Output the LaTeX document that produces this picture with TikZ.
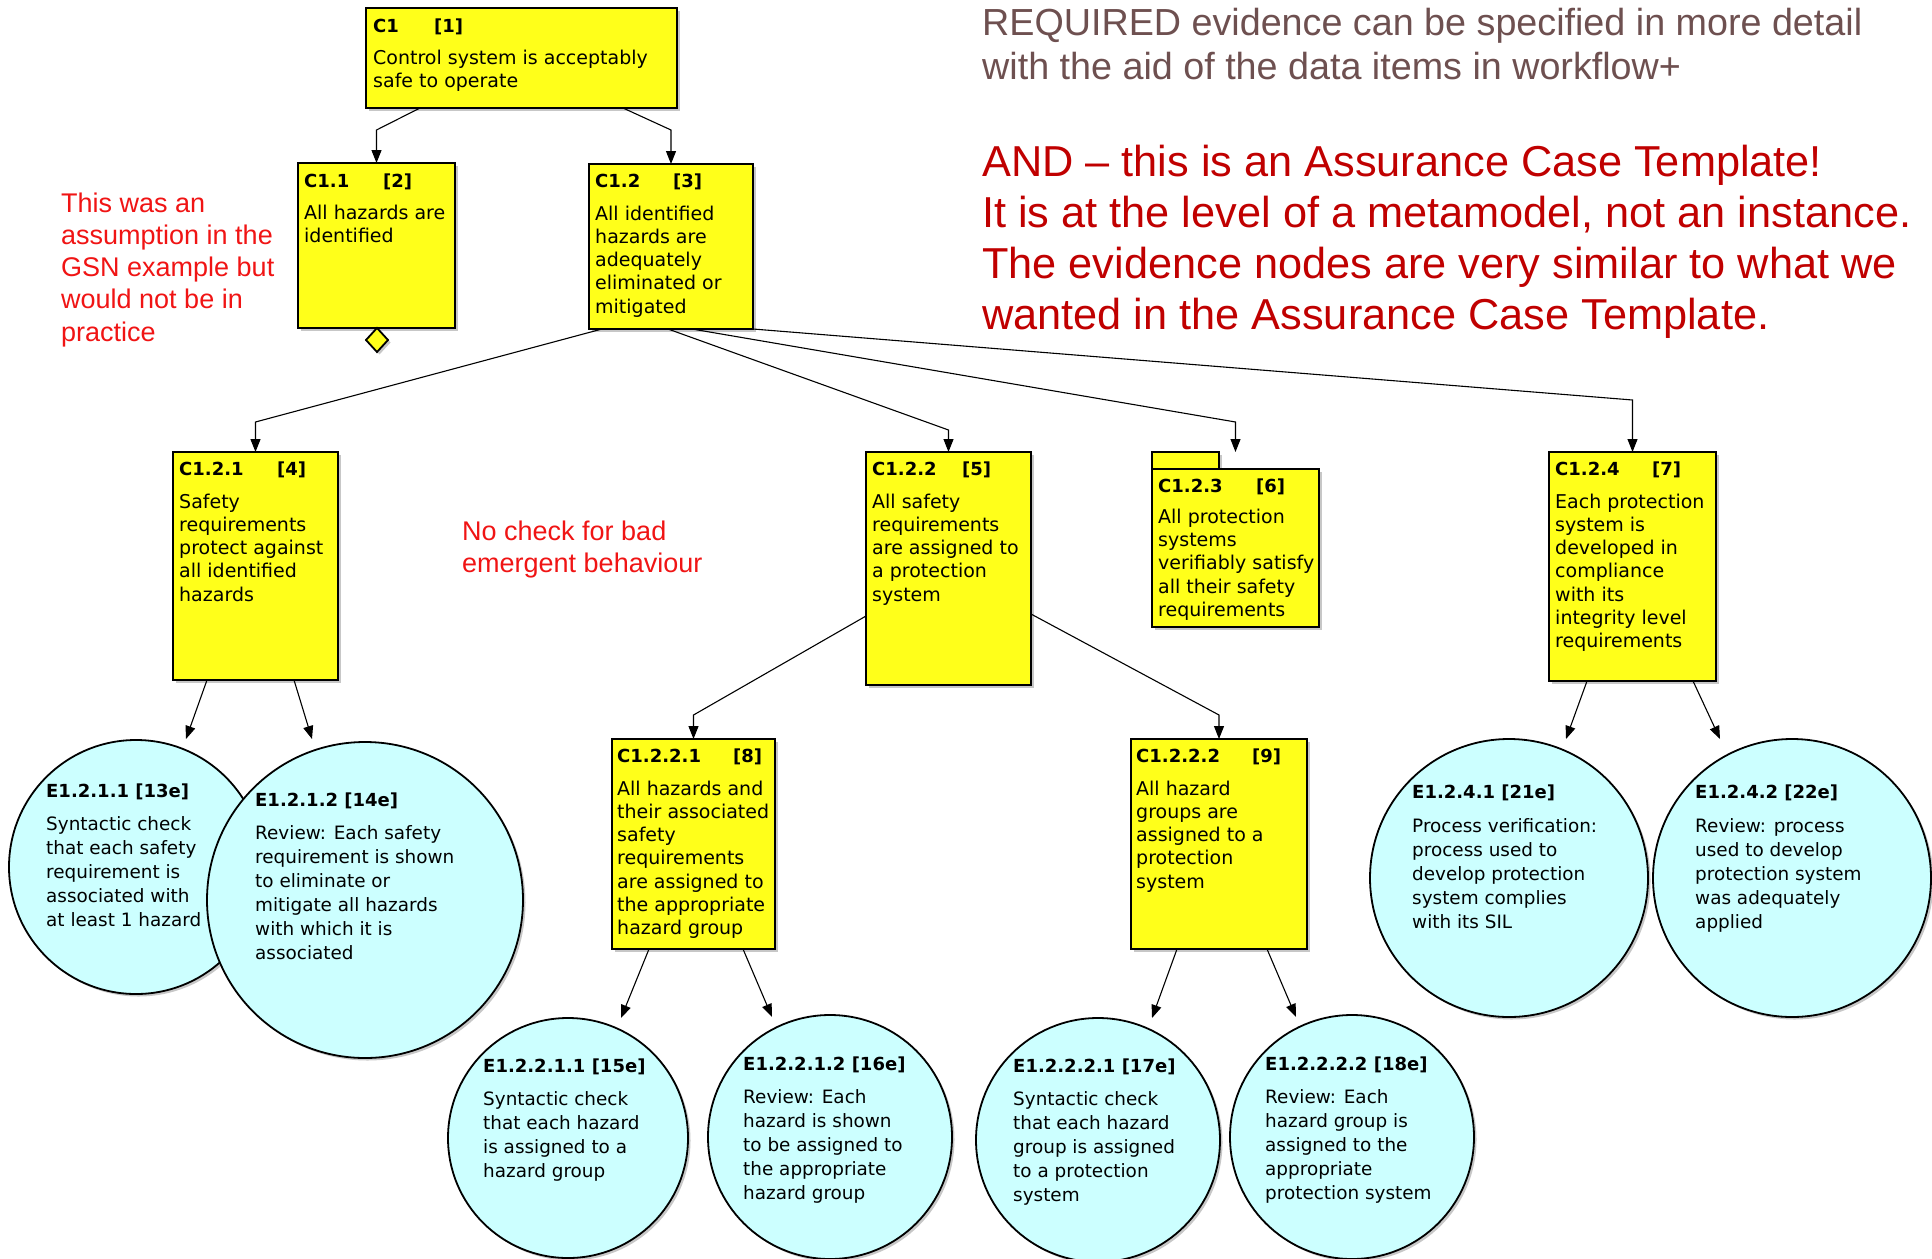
\documentclass[tikz,border=0pt]{standalone}
\usepackage{fontspec}
\setmainfont{DejaVu Sans}
\newfontfamily\notefont{Liberation Sans}
\usetikzlibrary{arrows.meta,calc,shapes.geometric,shadows}

\definecolor{gsnyellow}{RGB}{255,255,26}
\definecolor{gsncyan}{RGB}{204,255,255}
\definecolor{notered}{RGB}{240,20,20}
\definecolor{tplred}{RGB}{192,0,0}
\definecolor{notebrown}{RGB}{110,80,80}

\tikzset{
  softshadow/.style={drop shadow={shadow xshift=2.5pt, shadow yshift=-2.5pt, fill=black, opacity=0.22}},
  goal/.style={rectangle, draw=black, line width=2pt, fill=gsnyellow, inner sep=0pt, outer sep=0pt, softshadow},
  evid/.style={circle, draw=black, line width=1.8pt, fill=gsncyan, inner sep=0pt, outer sep=0pt, softshadow},
  undev/.style={diamond, draw=black, line width=1.8pt, fill=gsnyellow, inner sep=0pt, outer sep=0pt, minimum width=22pt, minimum height=24pt, softshadow},
  conn/.style={draw=black, line width=1.1pt, -{Triangle[length=13pt,width=10pt]}},
  ttl/.style={inner sep=0pt, anchor=base west, font=\fontsize{18}{21}\selectfont\bfseries},
  gtxt/.style={inner sep=0pt, font=\fontsize{19}{23}\selectfont},
  etxt/.style={inner sep=0pt, font=\fontsize{18.4}{24}\selectfont},
  notetxt/.style={inner sep=0pt, text=notered, font=\notefont\fontsize{27}{32}\selectfont},
  reqtxt/.style={inner sep=0pt, text=notebrown, font=\notefont\fontsize{37.7}{44}\selectfont},
  tpltxt/.style={inner sep=0pt, text=tplred, font=\notefont\fontsize{43.3}{51}\selectfont},
}

% goal box from its corners: name, x1, y1, x2, y2
\newcommand\goalbox[5]{%
  \node[goal, minimum width={#4-#2}, minimum height={#5-#3}] (#1) at ({(#2+#4)/2},{(#3+#5)/2}) {};}
% evidence circle: name, cx, cy, radius
\newcommand\evidcircle[4]{%
  \node[evid, minimum size={2*#4}] (#1) at (#2,#3) {};}
% lines of text, one node per line: prefix, x, first baseline, line step, style, lines
\newcommand\textlines[6]{%
  \foreach \tline [count=\k from 0] in {#6} {%
    \node[#5, anchor=base west] (#1-\k) at (#2,{#3+\k*#4}) {\tline};}}

\begin{document}
\begin{tikzpicture}[x=1pt, y=-1pt]
\useasboundingbox (0,0) rectangle (1932,1258);

% ---------- goals ----------
\goalbox{c1}{366}{8}{677}{108}
\goalbox{c11}{298}{163}{455}{328}
\goalbox{c12}{589}{164}{753}{329}
\goalbox{c121}{173}{452}{338}{680}
\goalbox{c122}{866}{452}{1031}{685}
\goalbox{c123tab}{1152}{452}{1219}{469}
\goalbox{c123}{1152}{469}{1319}{627}
\goalbox{c124}{1549}{452}{1716}{681}
\goalbox{c1221}{612}{739}{775}{949}
\goalbox{c1222}{1131}{739}{1307}{949}

\node[undev] (c11u) at (377,340) {};

% ---------- evidence ----------
\evidcircle{e13}{136}{867}{127}
\evidcircle{e14}{365}{900}{158}
\evidcircle{e15}{568}{1138}{120}
\evidcircle{e16}{830}{1137}{122}
\evidcircle{e17}{1098}{1140}{122}
\evidcircle{e18}{1352}{1137}{122}
\evidcircle{e21}{1509}{878}{139}
\evidcircle{e22}{1792}{878}{139}

% ---------- connectors ----------
\draw[conn] ($(c1.south west)+(54,0)$) -- ([yshift=33pt]c11.north) -- (c11.north);
\draw[conn] ($(c1.south west)+(257,0)$) -- ([yshift=34pt]c12.north) -- (c12.north);

\draw[conn] ($(c12.south west)+(13,0)$) -- ([yshift=30pt]c121.north) -- (c121.north);
\draw[conn] ($(c12.south west)+(79,0)$) -- ([yshift=22pt]c122.north) -- (c122.north);
\coordinate (c123in) at ([yshift=17pt]c123.north);
\draw[conn] ($(c12.south west)+(103,0)$) -- ([yshift=47pt]c123.north) -- (c123in);
\draw[conn] (c12.south east) -- ([yshift=52pt]c124.north) -- (c124.north);

\draw[conn] ($(c121.south west)+(34,0)$) -- ($(e13.center)+(50,-128)$);
\draw[conn] ($(c121.south west)+(121,0)$) -- ($(e14.center)+(-53,-161)$);

\draw[conn] ($(c122.south west)+(0,-69)$) -- ([yshift=24pt]c1221.north) -- (c1221.north);
\draw[conn] ($(c122.south east)+(0,-71)$) -- ([yshift=24pt]c1222.north) -- (c1222.north);

\draw[conn] ($(c1221.south west)+(37,0)$) -- ($(e15.center)+(53,-120)$);
\draw[conn] ($(c1221.south west)+(131,0)$) -- ($(e16.center)+(-58,-120)$);
\draw[conn] ($(c1222.south west)+(46,0)$) -- ($(e17.center)+(54,-122)$);
\draw[conn] ($(c1222.south west)+(136,0)$) -- ($(e18.center)+(-56,-120)$);

\draw[conn] ($(c124.south west)+(38,0)$) -- ($(e21.center)+(57,-139)$);
\draw[conn] ($(c124.south west)+(144,0)$) -- ($(e22.center)+(-72,-139)$);

% ---------- goal texts ----------
\node[ttl] (c1-id) at (373,32) {C1};      \node[ttl] (c1-no) at (434,32) {[1]};
\textlines{c1t}{373}{64}{23.3}{gtxt}{Control system is acceptably, safe to operate}

\node[ttl] (c11-id) at (304,187) {C1.1};  \node[ttl] (c11-no) at (383,187) {[2]};
\textlines{c11t}{304}{219}{23.3}{gtxt}{All hazards are, identified}

\node[ttl] (c12-id) at (595,187) {C1.2};  \node[ttl] (c12-no) at (673,187) {[3]};
\textlines{c12t}{595}{220}{23.3}{gtxt}{All identified, hazards are, adequately, eliminated or, mitigated}

\node[ttl] (c121-id) at (179,475) {C1.2.1}; \node[ttl] (c121-no) at (277,475) {[4]};
\textlines{c121t}{179}{508}{23.3}{gtxt}{Safety, requirements, protect against, all identified, hazards}

\node[ttl] (c122-id) at (872,475) {C1.2.2}; \node[ttl] (c122-no) at (962,475) {[5]};
\textlines{c122t}{872}{508}{23.3}{gtxt}{All safety, requirements, are assigned to, a protection, system}

\node[ttl] (c123-id) at (1158,492) {C1.2.3}; \node[ttl] (c123-no) at (1256,492) {[6]};
\textlines{c123t}{1158}{523}{23.4}{gtxt}{All protection, systems, verifiably satisfy, all their safety, requirements}

\node[ttl] (c124-id) at (1555,475) {C1.2.4}; \node[ttl] (c124-no) at (1652,475) {[7]};
\textlines{c124t}{1555}{508}{23.3}{gtxt}{Each protection, system is, developed in, compliance, with its, integrity level, requirements}

\node[ttl] (c1221-id) at (617,762) {C1.2.2.1}; \node[ttl] (c1221-no) at (733,762) {[8]};
\textlines{c1221t}{617}{795}{23.3}{gtxt}{All hazards and, their associated, safety, requirements, are assigned to, the appropriate, hazard group}

\node[ttl] (c1222-id) at (1136,762) {C1.2.2.2}; \node[ttl] (c1222-no) at (1252,762) {[9]};
\textlines{c1222t}{1136}{795}{23.3}{gtxt}{All hazard, groups are, assigned to a, protection, system}

% ---------- evidence texts ----------
\node[ttl] (e13-id) at (46,797) {E1.2.1.1 [13e]};
\textlines{e13t}{46}{830}{24}{etxt}{Syntactic check, that each safety, requirement is, associated with, at least 1 hazard}

\node[ttl] (e14-id) at (255,806) {E1.2.1.2 [14e]};
\textlines{e14t}{255}{839}{24}{etxt}{Review: Each safety, requirement is shown, to eliminate or, mitigate all hazards, with which it is, associated}

\node[ttl] (e15-id) at (483,1072) {E1.2.2.1.1 [15e]};
\textlines{e15t}{483}{1105}{24}{etxt}{Syntactic check, that each hazard, is assigned to a, hazard group}

\node[ttl] (e16-id) at (743,1070) {E1.2.2.1.2 [16e]};
\textlines{e16t}{743}{1103}{24}{etxt}{Review: Each, hazard is shown, to be assigned to, the appropriate, hazard group}

\node[ttl] (e17-id) at (1013,1072) {E1.2.2.2.1 [17e]};
\textlines{e17t}{1013}{1105}{24}{etxt}{Syntactic check, that each hazard, group is assigned, to a protection, system}

\node[ttl] (e18-id) at (1265,1070) {E1.2.2.2.2 [18e]};
\textlines{e18t}{1265}{1103}{24}{etxt}{Review: Each, hazard group is, assigned to the, appropriate, protection system}

\node[ttl] (e21-id) at (1412,798) {E1.2.4.1 [21e]};
\textlines{e21t}{1412}{832}{24}{etxt}{Process verification:, process used to, develop protection, system complies, with its SIL}

\node[ttl] (e22-id) at (1695,798) {E1.2.4.2 [22e]};
\textlines{e22t}{1695}{832}{24}{etxt}{Review: process, used to develop, protection system, was adequately, applied}

% ---------- notes ----------
\textlines{asm}{61}{212}{32.3}{notetxt}{This was an, assumption in the, GSN example but, would not be in, practice}
\textlines{emg}{462}{540}{32}{notetxt}{No check for bad, emergent behaviour}
\textlines{req}{982}{35}{44}{reqtxt}{REQUIRED evidence can be specified in more detail, with the aid of the data items in workflow+}
\textlines{tpl}{982}{176}{51.3}{tpltxt}{AND – this is an Assurance Case Template!, {It is at the level of a metamodel, not an instance.}, The evidence nodes are very similar to what we, wanted in the Assurance Case Template.}
\end{tikzpicture}
\end{document}
